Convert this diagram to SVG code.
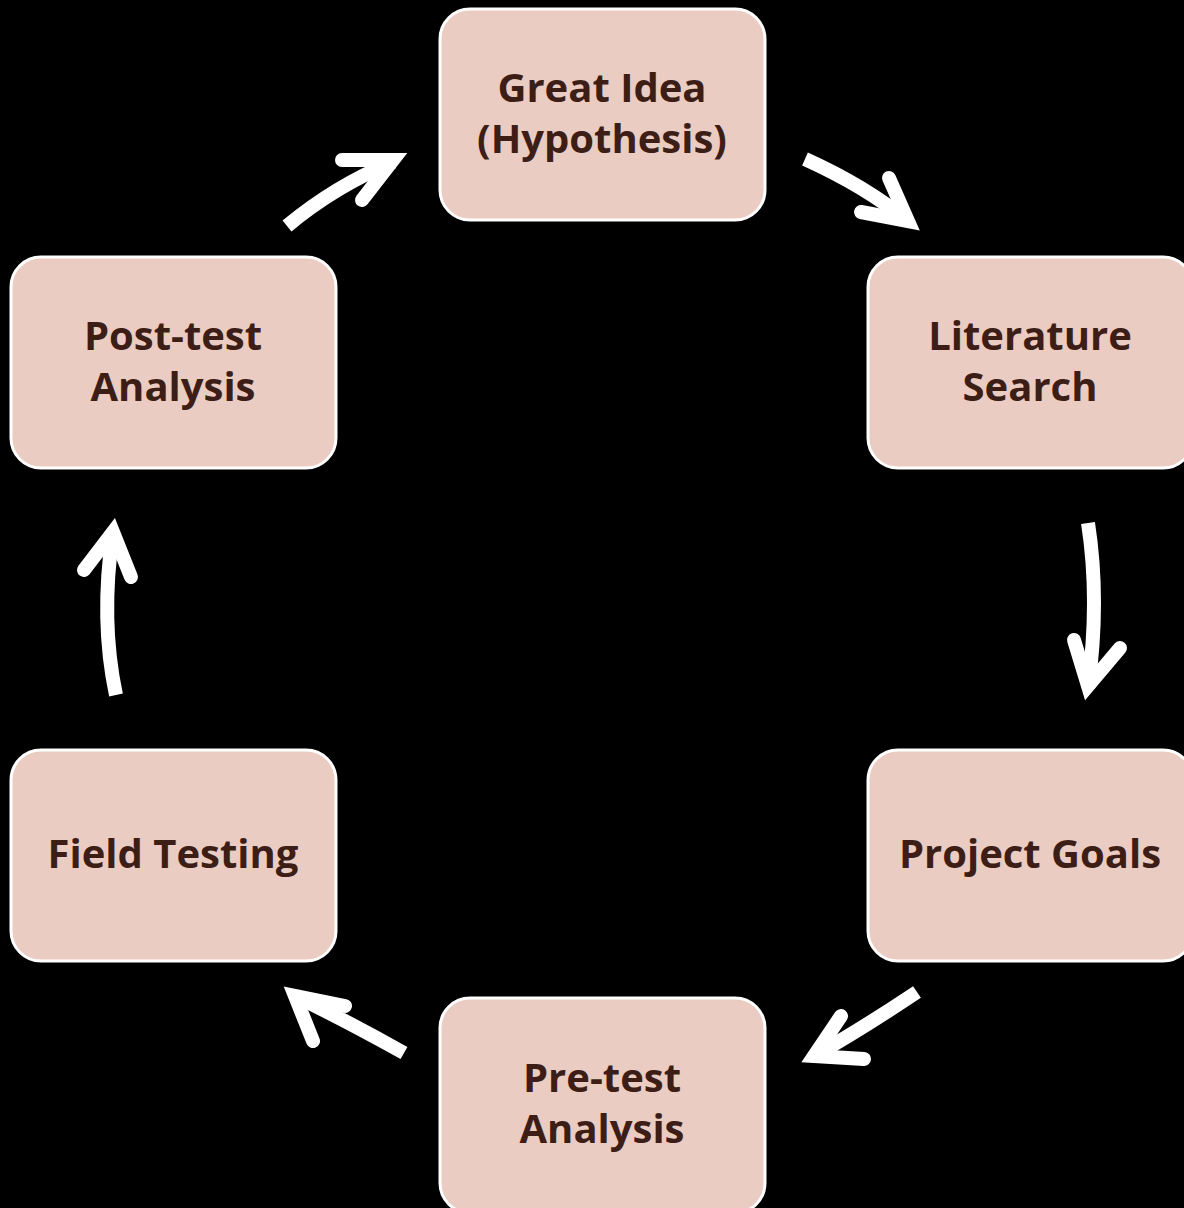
<svg xmlns="http://www.w3.org/2000/svg" width="1184" height="1208" viewBox="0 0 1184 1208">
  <style>
    .box { fill: #EBCCC2; stroke: #FFFFFF; stroke-width: 3; }
    .label { font-family: "Open Sans", "Noto Sans", "Liberation Sans", sans-serif; font-weight: 700; font-size: 40px; fill: #3D1E17; text-anchor: middle; }
    .shaft { fill: none; stroke: #FFFFFF; stroke-width: 14; stroke-linecap: butt; }
    .head { fill: none; stroke: #FFFFFF; stroke-width: 14; stroke-linecap: round; stroke-linejoin: miter; stroke-miterlimit: 10; }
  </style>
  <rect x="0" y="0" width="1184" height="1208" fill="#000000"/>

  <g id="great-idea">
    <rect class="box" x="440" y="9" width="325" height="211" rx="30"/>
    <text class="label" x="602" y="102">Great Idea</text>
    <text class="label" x="602" y="153">(Hypothesis)</text>
  </g>
  <g id="literature-search">
    <rect class="box" x="868" y="257" width="325" height="211" rx="30"/>
    <text class="label" x="1030" y="350">Literature</text>
    <text class="label" x="1030" y="401">Search</text>
  </g>
  <g id="project-goals">
    <rect class="box" x="868" y="750" width="325" height="211" rx="30"/>
    <text class="label" x="1030" y="868">Project Goals</text>
  </g>
  <g id="pre-test-analysis">
    <rect class="box" x="440" y="998" width="325" height="215" rx="30"/>
    <text class="label" x="602" y="1092">Pre-test</text>
    <text class="label" x="602" y="1143">Analysis</text>
  </g>
  <g id="field-testing">
    <rect class="box" x="11" y="750" width="325" height="211" rx="30"/>
    <text class="label" x="173" y="868">Field Testing</text>
  </g>
  <g id="post-test-analysis">
    <rect class="box" x="11" y="257" width="325" height="211" rx="30"/>
    <text class="label" x="173" y="350">Post-test</text>
    <text class="label" x="173" y="401">Analysis</text>
  </g>

  <g id="connectors">
    <!-- Post-test Analysis to Great Idea -->
    <path class="shaft" d="M287,226 Q335,186 393,162"/>
    <path class="head" d="M342,160 L393,160 L362,200"/>
    <!-- Great Idea to Literature Search -->
    <path class="shaft" d="M805,159 Q865,186 908,221"/>
    <path class="head" d="M889,178 L908,221 L861,212"/>
    <!-- Literature Search to Project Goals -->
    <path class="shaft" d="M1088,523 Q1100,600 1088,688"/>
    <path class="head" d="M1074,640 L1088,686 L1120,648"/>
    <!-- Project Goals to Pre-test Analysis -->
    <path class="shaft" d="M917,992 Q860,1030 814,1056"/>
    <path class="head" d="M841,1016 L814,1056 L864,1059"/>
    <!-- Pre-test Analysis to Field Testing -->
    <path class="shaft" d="M404,1053 Q345,1020 295,996"/>
    <path class="head" d="M345,1006 L295,996 L313,1041"/>
    <!-- Field Testing to Post-test Analysis -->
    <path class="shaft" d="M116,695 Q100,620 113,532"/>
    <path class="head" d="M84,570 L113,532 L131,577"/>
  </g>
</svg>
